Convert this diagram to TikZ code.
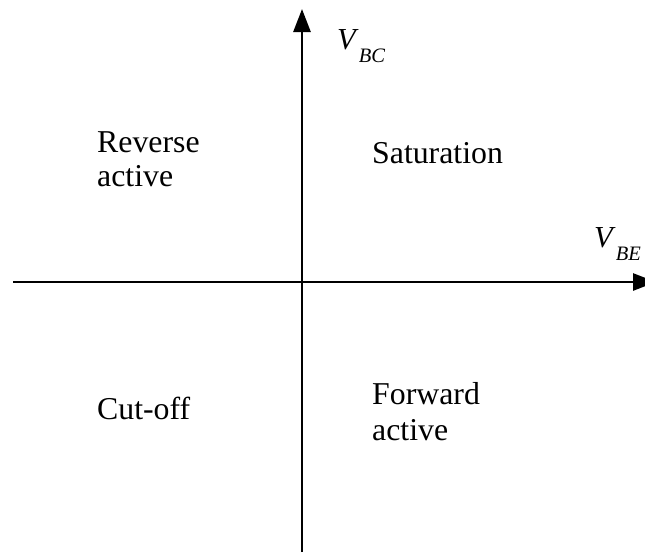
\documentclass[tikz,border=0pt]{standalone}
\usepackage{fontspec}
\setmainfont{Liberation Serif}
\usetikzlibrary{arrows.meta}
\tikzset{
  axis/.style={line width=2.7pt, -{Triangle[length=23pt,width=17pt]}},
  region/.style={inner sep=0pt, anchor=base west, align=left, font=\fontsize{31.8}{36}\selectfont},
  axlabel/.style={inner sep=0pt, anchor=base west, font=\fontsize{30.5}{34}\selectfont},
}
\newcommand{\vsub}[1]{\textit{V}\raisebox{-13pt}{\fontsize{20.5}{22}\selectfont\textit{#1}}}
\begin{document}
\begin{tikzpicture}[x=1pt,y=-1pt]
\useasboundingbox (0,0) rectangle (645,552);
\coordinate (hl) at (13,282);
\coordinate (hr) at (656,282);
\coordinate (vb) at (302,552);
\coordinate (vt) at (302,9);
\draw[axis] (hl) -- (hr);
\draw[axis] (vb) -- (vt);
\node[axlabel] (vbc) at (337,49) {\vsub{BC}};
\node[axlabel] (vbe) at (594,247) {\vsub{BE}};
\node[region] (ra1) at (97,152) {Reverse};
\node[region] (ra2) at (97,186) {active};
\node[region] (sat) at (372,163) {Saturation};
\node[region] (co) at (97,419) {Cut-off};
\node[region] (fa1) at (372,404) {Forward};
\node[region] (fa2) at (372,440) {active};
\end{tikzpicture}
\end{document}
